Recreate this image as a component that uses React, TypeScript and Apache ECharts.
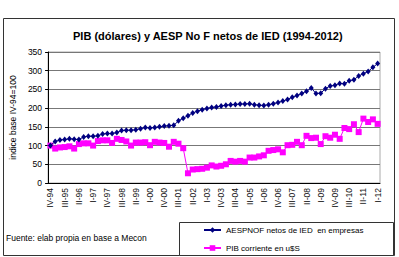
import React, { useEffect, useRef } from "react";
import * as echarts from "echarts";

const quarters = [
  "IV-94",
  "I-95", "II-95", "III-95", "IV-95",
  "I-96", "II-96", "III-96", "IV-96",
  "I-97", "II-97", "III-97", "IV-97",
  "I-98", "II-98", "III-98", "IV-98",
  "I-99", "II-99", "III-99", "IV-99",
  "I-00", "II-00", "III-00", "IV-00",
  "I-01", "II-01", "III-01", "IV-01",
  "I-02", "II-02", "III-02", "IV-02",
  "I-03", "II-03", "III-03", "IV-03",
  "I-04", "II-04", "III-04", "IV-04",
  "I-05", "II-05", "III-05", "IV-05",
  "I-06", "II-06", "III-06", "IV-06",
  "I-07", "II-07", "III-07", "IV-07",
  "I-08", "II-08", "III-08", "IV-08",
  "I-09", "II-09", "III-09", "IV-09",
  "I-10", "II-10", "III-10", "IV-10",
  "I-11", "II-11", "III-11", "IV-11",
  "I-12",
];

// AESPNOF netos de IED en empresas (IV-94 = 100)
const aespnof = [
  100,
  111, 115, 116, 118, 117, 116, 123, 125, 125, 126, 131, 132, 132, 135, 140, 141,
  141, 142, 145, 148, 147, 148, 150, 152, 153, 154,
  166, 173, 180, 187, 192, 196, 199, 202,
  203, 206, 208, 209, 210, 211, 211, 212, 209, 208, 207, 209, 212, 215,
  219, 223, 229, 234, 239, 245, 254, 239, 240, 252, 259, 261, 266, 265, 273, 276,
  286, 292, 298, 309, 319,
];

// PIB corriente en u$S (IV-94 = 100)
const pibUsd = [
  100, 92, 95, 96, 98, 92, 104, 106, 106, 100, 112, 114, 114, 107, 118, 115, 111,
  100, 108, 108, 109, 101, 110, 108, 107, 97, 110, 105, 93,
  26, 36, 37, 38, 41, 47, 44, 46, 50, 59, 57, 59, 57, 68, 68, 71, 74, 86, 88, 90,
  82, 101, 102, 110, 101, 126, 120, 121, 104, 125, 121, 129, 118, 147, 144, 157,
  136, 172, 163, 170, 158,
];

const yTicks = [0, 50, 100, 150, 200, 250, 300, 350];

const FONT = "Liberation Sans, Arial, sans-serif";

export default function App() {
  const ref = useRef<HTMLDivElement>(null);

  useEffect(() => {
    if (!ref.current) return;
    const chart = echarts.init(ref.current, undefined, { renderer: "svg" });
    chart.setOption({
      animation: false,
      backgroundColor: "#ffffff",
      textStyle: { fontFamily: FONT },
      title: {
        text: "PIB (dólares) y AESP No F netos de IED (1994-2012)",
        left: 73,
        top: 30,
        padding: 0,
        textStyle: { fontSize: 11, fontWeight: "bold", color: "#000", fontFamily: FONT },
      },
      graphic: [
        {
          type: "rect",
          shape: { x: 3.5, y: 18.5, width: 391, height: 237 },
          style: { fill: "none", stroke: "#333", lineWidth: 1 },
          z: 0,
        },
        {
          type: "rect",
          shape: { x: 179.5, y: 222.5, width: 214, height: 33 },
          style: { fill: "#fff", stroke: "#333", lineWidth: 1 },
          z: 1,
        },
        {
          type: "text",
          left: 6,
          top: 233,
          style: {
            text: "Fuente: elab propia en base a Mecon",
            fontSize: 8.5,
            fontFamily: FONT,
            fill: "#000",
          },
        },
      ],
      legend: {
        orient: "vertical",
        left: 203,
        top: 226,
        padding: 0,
        itemWidth: 17,
        itemHeight: 7,
        itemGap: 10,
        textStyle: { fontSize: 8, color: "#000", fontFamily: FONT },
        z: 5,
      },
      grid: { left: 40, right: 19, top: 52, bottom: 74, show: true, borderColor: "#aaa", borderWidth: 1 },
      xAxis: {
        type: "category",
        data: quarters,
        boundaryGap: true,
        axisLine: { lineStyle: { color: "#000", width: 1 } },
        axisTick: { interval: 0, length: 3, lineStyle: { color: "#000" } },
        axisLabel: {
          interval: 2,
          rotate: 90,
          fontSize: 8.5,
          color: "#111",
          margin: 5,
          fontFamily: FONT,
        },
        splitLine: { show: false },
      },
      yAxis: {
        type: "value",
        min: yTicks[0],
        max: yTicks[yTicks.length - 1],
        interval: 50,
        name: "indice base IV-94=100",
        nameLocation: "middle",
        nameRotate: 90,
        nameGap: 30,
        nameTextStyle: { fontSize: 8.5, color: "#000", fontFamily: FONT },
        axisLine: { show: true, lineStyle: { color: "#000", width: 1 } },
        axisTick: { show: true, length: 3, lineStyle: { color: "#000" } },
        axisLabel: { fontSize: 8.5, color: "#000", margin: 6, fontFamily: FONT },
        splitLine: { lineStyle: { color: "#777", width: 1 } },
      },
      series: [
        {
          name: "AESPNOF netos de IED  en empresas",
          type: "line",
          data: aespnof,
          symbol: "diamond",
          symbolSize: [5, 6],
          showSymbol: true,
          showAllSymbol: true,
          lineStyle: { color: "#000080", width: 1 },
          itemStyle: { color: "#000080" },
          z: 3,
        },
        {
          name: "PIB corriente en u$S",
          type: "line",
          data: pibUsd,
          symbol: "rect",
          symbolSize: 6,
          showSymbol: true,
          showAllSymbol: true,
          lineStyle: { color: "#ff00ff", width: 1 },
          itemStyle: { color: "#ff00ff" },
          z: 2,
        },
      ],
    });
    return () => chart.dispose();
  }, []);

  return <div ref={ref} style={{ width: 399, height: 257, position: "absolute", left: 0, top: 0 }} />;
}
